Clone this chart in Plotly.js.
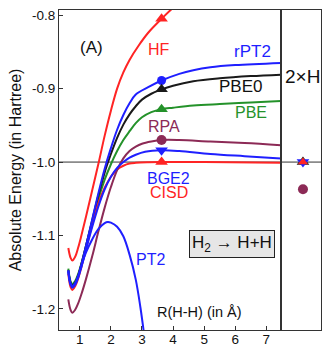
<!DOCTYPE html>
<html>
<head>
<meta charset="utf-8">
<script src="https://cdn.plot.ly/plotly-3.0.1.min.js"></script>
<style>html,body{margin:0;padding:0;background:#fff;}#chart{width:322px;height:347px;}</style>
</head>
<body>
<div id="chart"></div>
<script>
// ---- data (R in Angstrom, E in Hartree) ----
const hfR   = [0.63, 0.70, 0.76, 0.85, 0.95, 1.05, 1.20, 1.40, 1.60, 1.80, 2.00, 2.20, 2.40, 2.60, 2.90, 3.20, 3.63, 4.00, 4.40];
const hfE   = [-1.117, -1.130, -1.134, -1.129, -1.116, -1.100, -1.074, -1.038, -1.002, -0.964, -0.930, -0.900, -0.878, -0.861, -0.841, -0.824, -0.805, -0.790, -0.777];

const rpt2R = [0.63, 0.70, 0.76, 0.85, 0.95, 1.05, 1.20, 1.40, 1.60, 1.80, 2.00, 2.20, 2.40, 2.60, 2.80, 3.20, 3.63, 4.20, 4.65, 5.20, 6.00, 7.47];
const rpt2E = [-1.148, -1.165, -1.169, -1.165, -1.155, -1.140, -1.114, -1.078, -1.042, -1.009, -0.981, -0.956, -0.936, -0.920, -0.908, -0.898, -0.889, -0.880, -0.875, -0.871, -0.868, -0.865];

const pbe0R = [0.63, 0.70, 0.76, 0.85, 0.95, 1.05, 1.20, 1.40, 1.60, 1.80, 2.00, 2.20, 2.40, 2.60, 2.80, 3.00, 3.30, 3.63, 4.00, 4.65, 5.50, 6.50, 7.47];
const pbe0E = [-1.147, -1.164, -1.168, -1.164, -1.154, -1.139, -1.114, -1.079, -1.045, -1.014, -0.989, -0.967, -0.949, -0.935, -0.924, -0.915, -0.907, -0.901, -0.896, -0.890, -0.886, -0.883, -0.881];

const pbeR  = [0.63, 0.70, 0.76, 0.85, 0.95, 1.05, 1.20, 1.40, 1.60, 1.80, 2.00, 2.20, 2.40, 2.60, 2.80, 3.00, 3.30, 3.63, 4.00, 4.65, 5.50, 6.50, 7.47];
const pbeE  = [-1.145, -1.162, -1.166, -1.162, -1.152, -1.138, -1.114, -1.081, -1.050, -1.024, -1.003, -0.985, -0.970, -0.958, -0.947, -0.939, -0.932, -0.928, -0.926, -0.923, -0.921, -0.919, -0.917];

const rpaR  = [0.63, 0.70, 0.76, 0.85, 0.95, 1.05, 1.20, 1.40, 1.60, 1.80, 2.00, 2.20, 2.40, 2.60, 2.80, 3.00, 3.30, 3.63, 4.20, 5.20, 6.30, 7.47];
const rpaE  = [-1.187, -1.201, -1.205, -1.201, -1.192, -1.180, -1.159, -1.128, -1.094, -1.062, -1.034, -1.011, -0.995, -0.985, -0.979, -0.975, -0.972, -0.970, -0.970, -0.972, -0.974, -0.977];

const bge2R = [0.63, 0.70, 0.76, 0.85, 0.95, 1.05, 1.20, 1.40, 1.60, 1.80, 2.00, 2.20, 2.40, 2.60, 2.80, 3.10, 3.63, 4.20, 5.20, 6.30, 7.47];
const bge2E = [-1.149, -1.167, -1.171, -1.167, -1.157, -1.143, -1.119, -1.088, -1.060, -1.037, -1.020, -1.008, -1.000, -0.994, -0.990, -0.986, -0.984, -0.985, -0.989, -0.992, -0.995];

const cisdR = [0.63, 0.70, 0.76, 0.85, 0.95, 1.05, 1.20, 1.40, 1.60, 1.80, 2.00, 2.20, 2.40, 2.60, 2.80, 3.20, 3.63, 5.00, 7.47];
const cisdE = [-1.152, -1.170, -1.174, -1.169, -1.158, -1.143, -1.118, -1.085, -1.056, -1.035, -1.020, -1.010, -1.005, -1.002, -1.001, -1.0003, -1.000, -1.000, -1.001];

const pt2R  = [0.63, 0.70, 0.76, 0.85, 0.95, 1.05, 1.20, 1.40, 1.60, 1.80, 1.90, 2.00, 2.20, 2.40, 2.60, 2.80, 2.95, 3.10];
const pt2E  = [-1.147, -1.165, -1.169, -1.165, -1.155, -1.141, -1.123, -1.105, -1.091, -1.083, -1.0815, -1.0825, -1.088, -1.101, -1.126, -1.160, -1.198, -1.245];

// highlighted points at R = 3.63
const markR = [3.63];
const hfM = [-0.805], rpt2M = [-0.889], pbe0M = [-0.901], pbeM = [-0.928], rpaM = [-0.970], bge2M = [-0.984], cisdM = [-1.000];

// separated atoms (2 x H) limits
const atomX = [0.55];
const atomPBE0 = [-1.000], atomBGE2 = [-1.000], atomCISD = [-1.000], atomRPA = [-1.037];

const yTicks = [-1.2, -1.1, -1.0, -0.9, -0.8];
const yTickText = ['-1.2', '-1.1', '-1.0', '-0.9', '-0.8'];
const xTicks = [1, 2, 3, 4, 5, 6, 7];

// ---- colors ----
const RED = '#ff2424', BLUE = '#1f1fff', BLACK = '#1a1a1a', GREEN = '#24922a', PURPLE = '#8c2a56';

function line(x, y, color) {
  return {x: x, y: y, mode: 'lines', type: 'scatter', xaxis: 'x', yaxis: 'y',
          line: {color: color, width: 2, shape: 'spline', smoothing: 1}, hoverinfo: 'skip'};
}
function mark(x, y, color, symbol, size, xa, ya) {
  return {x: x, y: y, mode: 'markers', type: 'scatter', xaxis: xa || 'x', yaxis: ya || 'y',
          marker: {color: color, symbol: symbol, size: size, line: {width: 0}}, hoverinfo: 'skip', cliponaxis: false};
}

const data = [
  line(pbeR, pbeE, GREEN),
  line(pbe0R, pbe0E, BLACK),
  line(cisdR, cisdE, RED),
  line(rpaR, rpaE, PURPLE),
  line(bge2R, bge2E, BLUE),
  line(rpt2R, rpt2E, BLUE),
  line(pt2R, pt2E, BLUE),
  line(hfR, hfE, RED),
  mark(markR, hfM, RED, 'triangle-up', 11),
  mark(markR, rpt2M, BLUE, 'circle', 9),
  mark(markR, pbe0M, BLACK, 'triangle-up', 11),
  mark(markR, pbeM, GREEN, 'triangle-up', 11),
  mark(markR, rpaM, PURPLE, 'circle', 10),
  mark(markR, bge2M, BLUE, 'triangle-down', 11),
  mark(markR, cisdM, RED, 'triangle-up', 11),
  mark(atomX, atomPBE0, BLACK, 'triangle-up', 11, 'x2', 'y2'),
  mark(atomX, atomBGE2, BLUE, 'triangle-down', 11, 'x2', 'y2'),
  mark(atomX, atomCISD, RED, 'triangle-up', 9, 'x2', 'y2'),
  mark(atomX, atomRPA, PURPLE, 'circle', 10, 'x2', 'y2')
];

const FONT = 'Liberation Sans, Arial, Helvetica, sans-serif';
const FRAME = '#333';
const yRange = [-1.2286, -0.793];

function ann(text, x, y, color, size, extra) {
  return Object.assign({text: text, x: x, y: y, xref: 'x', yref: 'y', showarrow: false,
          font: {family: FONT, size: size, color: color}, xanchor: 'center', yanchor: 'middle'}, extra || {});
}

const layout = {
  width: 322, height: 347,
  margin: {l: 59, r: 1, t: 10, b: 17, pad: 0},
  paper_bgcolor: '#fff', plot_bgcolor: '#fff',
  showlegend: false,
  font: {family: FONT, size: 13.5, color: '#111'},
  xaxis: {domain: [0, 0.847], range: [0.33, 7.47], tickvals: xTicks, ticks: 'inside', ticklen: 4,
          tickcolor: FRAME, showline: true, linecolor: FRAME, linewidth: 1, mirror: true, ticklabelstandoff: -3,
          showgrid: false, zeroline: false, tickfont: {size: 13.5, family: FONT, color: '#111'}, anchor: 'y'},
  yaxis: {range: yRange, tickvals: yTicks, ticktext: yTickText, ticks: 'inside', ticklen: 4,
          tickcolor: FRAME, showline: true, linecolor: FRAME, linewidth: 1, mirror: true,
          showgrid: false, zeroline: false, tickfont: {size: 13.5, family: FONT, color: '#111'}, anchor: 'x',
          title: {text: 'Absolute Energy (in Hartree)', font: {size: 16, family: FONT, color: '#111'}, standoff: 6}},
  xaxis2: {domain: [0.847, 1], range: [0, 1], showticklabels: false, ticks: '', showline: true,
           linecolor: FRAME, linewidth: 1, mirror: true, showgrid: false, zeroline: false, anchor: 'y2'},
  yaxis2: {range: yRange, showticklabels: false, ticks: '', showline: true, linecolor: FRAME, linewidth: 1,
           mirror: true, showgrid: false, zeroline: false, anchor: 'x2', matches: 'y'},
  shapes: [
    {type: 'line', xref: 'paper', yref: 'y', x0: 0, x1: 1, y0: -1.0, y1: -1.0, line: {color: FRAME, width: 1}, layer: 'below'}
  ],
  annotations: [
    ann('(A)', 1.386, -0.8435, '#111', 17),
    ann('HF', 3.55, -0.8467, RED, 16),
    ann('rPT2', 6.556, -0.8494, BLUE, 17),
    ann('PBE0', 6.154, -0.897, '#111', 17),
    ann('PBE', 6.492, -0.9324, GREEN, 16),
    ann('RPA', 3.71, -0.9514, PURPLE, 16),
    ann('BGE2', 3.855, -1.0222, BLUE, 16),
    ann('CISD', 3.871, -1.0412, RED, 16),
    ann('PT2', 3.26, -1.1324, BLUE, 16),
    ann('R(H-H) (in Å)', 4.836, -1.2045, '#111', 14.5),
    ann('H<sub>2</sub> → H+H', 5.881, -1.1113, '#111', 17,
        {bgcolor: '#e6e6e6', bordercolor: '#222', borderwidth: 1, borderpad: 2}),
    {text: '2×H', x: 0.53, y: -0.8834, xref: 'x2', yref: 'y2', showarrow: false,
     font: {family: FONT, size: 19, color: '#111'}, xanchor: 'center', yanchor: 'middle'}
  ]
};

Plotly.newPlot('chart', data, layout, {displayModeBar: false, staticPlot: true});
</script>
</body>
</html>
